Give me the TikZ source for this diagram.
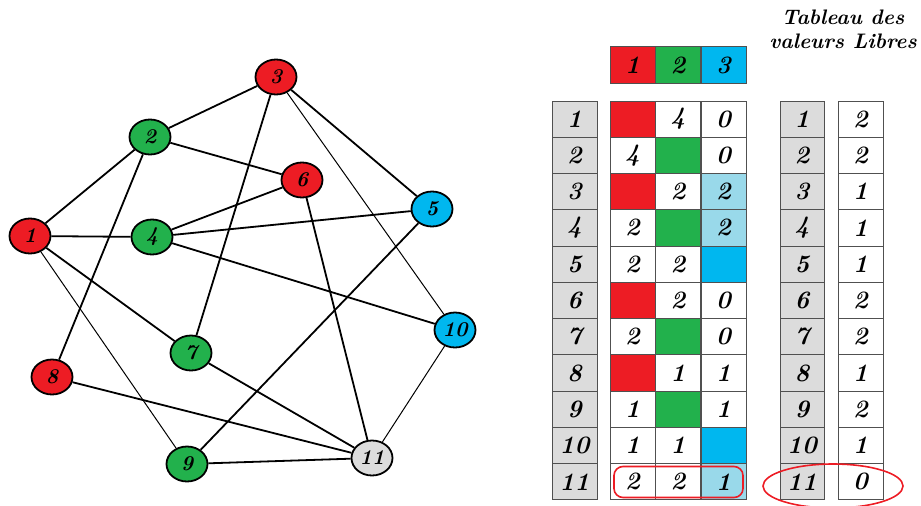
\documentclass[tikz,border=0pt]{standalone}
\usepackage{fontspec}
\usetikzlibrary{shapes.geometric}
\definecolor{cred}{HTML}{ED1C24}
\definecolor{cgreen}{HTML}{22B14C}
\definecolor{cblue}{HTML}{00B7EF}
\definecolor{clight}{HTML}{99D9EA}
\definecolor{cgray}{HTML}{DCDCDC}
\definecolor{cborder}{HTML}{505050}
\begin{document}
\begin{tikzpicture}[x=1pt,y=-1pt,
  vtx/.style={ellipse, draw=black, line width=1.8pt, minimum width=41pt, minimum height=35pt, inner sep=0pt, font=\fontsize{21}{21}\selectfont\bfseries\itshape},
  thk/.style={line width=1.8pt},
  thn/.style={line width=1pt},
  cell/.style={draw=cborder, line width=1pt, minimum width=45pt, minimum height=36.27pt, inner sep=0pt, font=\fontsize{25}{25}\selectfont\bfseries\itshape},
  hl/.style={draw=cred, line width=1.6pt}]
\useasboundingbox (0,0) rectangle (921,506);
% graph
\node[vtx, fill=cred]   (n1)  at (30,236)  {1};
\node[vtx, fill=cgreen] (n2)  at (150,137) {2};
\node[vtx, fill=cred]   (n3)  at (276,77)  {3};
\node[vtx, fill=cgreen] (n4)  at (152,237) {4};
\node[vtx, fill=cblue]  (n5)  at (432,209) {5};
\node[vtx, fill=cred]   (n6)  at (302,180) {6};
\node[vtx, fill=cgreen] (n7)  at (191,353) {7};
\node[vtx, fill=cred]   (n8)  at (52,377)  {8};
\node[vtx, fill=cgreen] (n9)  at (187,464) {9};
\node[vtx, fill=cblue]  (n10) at (455,330) {10};
\node[vtx, fill=cgray]  (n11) at (372,458) {11};
\foreach \a/\b in {1/2,1/4,1/7,2/3,2/6,2/8,3/7,3/5,4/6,4/5,4/10,6/11,5/9,7/11,8/11,9/11}
  \draw[thk] (n\a) -- (n\b);
\foreach \a/\b in {1/9,3/10,10/11}
  \draw[thn] (n\a) -- (n\b);
% header
\node[cell, fill=cred]   (h1) at (632.5,65) {1};
\node[cell, fill=cgreen] (h2) at (678,65)   {2};
\node[cell, fill=cblue]  (h3) at (723.5,65) {3};
% title
\node[align=center, font=\fontsize{21}{24}\selectfont\bfseries\itshape] (title) at (843,29) {Tableau des\\valeurs Libres};
% tables
\foreach \r/\fa/\ta/\fb/\tb/\fc/\tc/\v in {
 1/cred/{}/white/4/white/0/2,
 2/white/4/cgreen/{}/white/0/2,
 3/cred/{}/white/2/clight/2/1,
 4/white/2/cgreen/{}/clight/2/1,
 5/white/2/white/2/cblue/{}/1,
 6/cred/{}/white/2/white/0/2,
 7/white/2/cgreen/{}/white/0/2,
 8/cred/{}/white/1/white/1/1,
 9/white/1/cgreen/{}/white/1/2,
 10/white/1/white/1/cblue/{}/1,
 11/white/2/white/2/clight/1/0}{
  \pgfmathsetmacro\yy{101+(\r-0.5)*36.27}
  \node[cell, fill=cgray] (L\r) at (574.5,\yy) {\raisebox{-5pt}{\r}};
  \node[cell, fill=\fa] (A\r) at (632.5,\yy) {\ta};
  \node[cell, fill=\fb] (B\r) at (678,\yy) {\tb};
  \node[cell, fill=\fc] (C\r) at (723.5,\yy) {\tc};
  \node[cell, fill=cgray, minimum width=44pt] (G\r) at (802,\yy) {\raisebox{-5pt}{\r}};
  \node[cell, fill=white] (V\r) at (860.5,\yy) {\v};
}
% highlights
\node[hl, rounded corners=9pt, minimum width=129pt, minimum height=31pt] (hl1) at (678.5,482) {};
\node[hl, ellipse, minimum width=140pt, minimum height=44pt] (hl2) at (833,486) {};
\end{tikzpicture}
\end{document}
